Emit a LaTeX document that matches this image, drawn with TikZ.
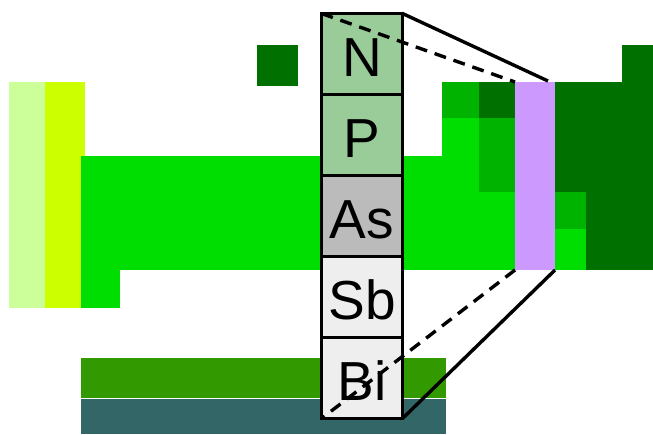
\documentclass[tikz,border=0pt]{standalone}
\usepackage{fontspec}
\setsansfont{Liberation Sans}
\usetikzlibrary{positioning}
\definecolor{alkali}{HTML}{CCFF99}
\definecolor{earth}{HTML}{CCFF00}
\definecolor{trans}{HTML}{00DD00}
\definecolor{poor}{HTML}{00B300}
\definecolor{nonmet}{HTML}{007000}
\definecolor{pnict}{HTML}{CC99FF}
\definecolor{lanth}{HTML}{339900}
\definecolor{actin}{HTML}{336666}
\definecolor{gasfill}{HTML}{99CC99}
\definecolor{metalloid}{HTML}{BBBBBB}
\definecolor{metfill}{HTML}{EEEEEE}

\begin{document}
\begin{tikzpicture}[x=1pt, y=-1pt,
        elem/.style={rectangle, draw, line width=3.6pt, inner sep=0pt, outer sep=0pt,
            minimum width=81pt, minimum height=81pt, text height=44pt, text depth=0pt,
            font=\sffamily\fontsize{55}{55}\selectfont},
        link/.style={line width=3.4pt}]
        \useasboundingbox (0,0) rectangle (653,434);
        % the table behind
        \fill[alkali] (9,82) rectangle (45,308);
        \fill[earth] (45,82) rectangle (85,308);
        \fill[trans] (81,156) rectangle (515,270);
        \fill[trans] (81,270) rectangle (120,308);
        \fill[trans] (442,82) rectangle (515,156);
        \fill[poor] (442,82) rectangle (479,118);
        \fill[nonmet] (479,82) rectangle (515,118);
        \fill[poor] (479,118) rectangle (515,192);
        \fill[nonmet] (257,45) rectangle (298,86);
        \fill[nonmet] (555,82) rectangle (653,270);
        \fill[nonmet] (622,45) rectangle (653,82);
        \fill[poor] (555,192) rectangle (586,229);
        \fill[trans] (555,229) rectangle (586,270);
        \fill[lanth] (81,358) rectangle (446,398);
        \fill[actin] (81,399) rectangle (446,434);
        \node[fill=pnict, inner sep=0pt, outer sep=0pt, minimum width=40pt,
            minimum height=188pt, anchor=north west] (pnic) at (515,82) {};
        \coordinate (tip) at (548,81);
        % group 15
        \node[elem, fill=gasfill] (N) at (362,54) {N};
        \node[elem, fill=gasfill, below=0pt of N] (P) {P};
        \node[elem, fill=metalloid, below=0pt of P] (As) {As};
        \node[elem, fill=metfill, below=0pt of As] (Sb) {Sb};
        \node[elem, fill=metfill, below=0pt of Sb] (Bi) {Bi};
        \draw[link, dash pattern=on 12pt off 8pt] (N.north west) -- (pnic.north west);
        \draw[link] (N.north east) -- (tip);
        \draw[link, dash pattern=on 12pt off 8pt] (pnic.south west) -- (Bi.south west);
        \draw[link] (pnic.south east) -- (Bi.south east);
    \end{tikzpicture}
\end{document}
